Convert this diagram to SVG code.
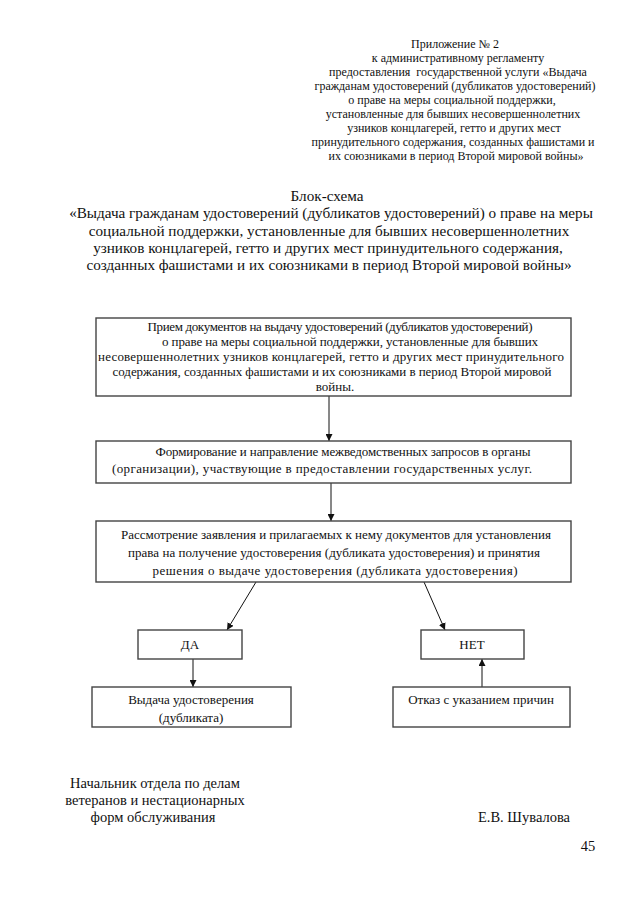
<svg xmlns="http://www.w3.org/2000/svg" width="640" height="905" viewBox="0 0 640 905">
<style>
text{fill:#111;}
.h{font-size:12px;text-anchor:middle;}
.t{font-size:15.2px;text-anchor:middle;}
.b{font-size:13px;text-anchor:middle;}
.f{font-size:14.5px;text-anchor:middle;}
.box{fill:#fff;stroke:#444;stroke-width:1.4;}
.c{stroke:#111;stroke-width:1;fill:none;}
</style>
<defs>
<marker id="ah" viewBox="0 0 10 10" refX="10" refY="5" markerWidth="7" markerHeight="7" orient="auto" markerUnits="userSpaceOnUse">
<path d="M0,0 L10,5 L0,10 z" fill="#111"/>
</marker>
</defs>
<rect width="640" height="905" fill="#fff"/>
<g id="header">
<text font-family="Liberation Serif" class="h" x="455" y="48">Приложение № 2</text>
<text font-family="Liberation Serif" class="h" x="458" y="62">к административному регламенту</text>
<text font-family="Liberation Serif" class="h" x="458" y="76" xml:space="preserve">предоставления  государственной услуги «Выдача</text>
<text font-family="Liberation Serif" class="h" x="455" y="90">гражданам удостоверений (дубликатов удостоверений)</text>
<text font-family="Liberation Serif" class="h" x="452" y="104">о праве на меры социальной поддержки,</text>
<text font-family="Liberation Serif" class="h" x="453" y="118">установленные для бывших несовершеннолетних</text>
<text font-family="Liberation Serif" class="h" x="454" y="132">узников концлагерей, гетто и других мест</text>
<text font-family="Liberation Serif" class="h" x="453" y="146">принудительного содержания, созданных фашистами и</text>
<text font-family="Liberation Serif" class="h" x="456" y="160">их союзниками в период Второй мировой войны»</text>
</g>
<g id="title">
<text font-family="Liberation Serif" class="t" x="327" y="201">Блок-схема</text>
<text font-family="Liberation Serif" class="t" x="331" y="218">«Выдача гражданам удостоверений (дубликатов удостоверений) о праве на меры</text>
<text font-family="Liberation Serif" class="t" x="329" y="236">социальной поддержки, установленные для бывших несовершеннолетних</text>
<text font-family="Liberation Serif" class="t" x="328" y="253">узников концлагерей, гетто и других мест принудительного содержания,</text>
<text font-family="Liberation Serif" class="t" x="329" y="270">созданных фашистами и их союзниками в период Второй мировой войны»</text>
</g>
<g id="connectors">
<line class="c" x1="329" y1="396" x2="329" y2="441" marker-end="url(#ah)"/>
<line class="c" x1="331" y1="483" x2="331" y2="521" marker-end="url(#ah)"/>
<line class="c" x1="256" y1="582" x2="227" y2="630" marker-end="url(#ah)"/>
<line class="c" x1="424" y1="582" x2="445" y2="630" marker-end="url(#ah)"/>
<line class="c" x1="193" y1="659" x2="193" y2="687" marker-end="url(#ah)"/>
<line class="c" x1="482" y1="687" x2="482" y2="659" marker-end="url(#ah)"/>
</g>
<g id="node1">
<rect class="box" x="96" y="318" width="475" height="78"/>
<text font-family="Liberation Serif" class="b" x="340" y="331" textLength="385" lengthAdjust="spacing">Прием документов на выдачу удостоверений (дубликатов удостоверений)</text>
<text font-family="Liberation Serif" class="b" x="350" y="346" textLength="376" lengthAdjust="spacing">о праве на меры социальной поддержки, установленные для бывших</text>
<text font-family="Liberation Serif" class="b" x="331" y="361" textLength="466" lengthAdjust="spacing">несовершеннолетних узников концлагерей, гетто и других мест принудительного</text>
<text font-family="Liberation Serif" class="b" x="332" y="376" textLength="439" lengthAdjust="spacing">содержания, созданных фашистами и их союзниками в период Второй мировой</text>
<text font-family="Liberation Serif" class="b" x="335" y="391">войны.</text>
</g>
<g id="node2">
<rect class="box" x="96" y="441" width="475" height="42"/>
<text font-family="Liberation Serif" class="b" x="343" y="456" textLength="375" lengthAdjust="spacing">Формирование и направление межведомственных запросов в органы</text>
<text font-family="Liberation Serif" class="b" x="322" y="473" textLength="420" lengthAdjust="spacing">(организации), участвующие в предоставлении государственных услуг.</text>
</g>
<g id="node3">
<rect class="box" x="96" y="521" width="475" height="61"/>
<text font-family="Liberation Serif" class="b" x="336" y="539" textLength="430" lengthAdjust="spacing">Рассмотрение заявления и прилагаемых к нему документов для установления</text>
<text font-family="Liberation Serif" class="b" x="334" y="557" textLength="412" lengthAdjust="spacing">права на получение удостоверения (дубликата удостоверения) и принятия</text>
<text font-family="Liberation Serif" class="b" x="335" y="575" textLength="365" lengthAdjust="spacing">решения о выдаче удостоверения (дубликата удостоверения)</text>
</g>
<g id="node-yes">
<rect class="box" x="138" y="630" width="104" height="29"/>
<text font-family="Liberation Serif" class="b" x="190" y="649">ДА</text>
</g>
<g id="node-no">
<rect class="box" x="421" y="630" width="103" height="29"/>
<text font-family="Liberation Serif" class="b" x="472" y="649">НЕТ</text>
</g>
<g id="node-issue">
<rect class="box" x="92" y="687" width="199" height="40"/>
<text font-family="Liberation Serif" class="b" x="191" y="704">Выдача удостоверения</text>
<text font-family="Liberation Serif" class="b" x="191" y="722">(дубликата)</text>
</g>
<g id="node-refuse">
<rect class="box" x="393" y="687" width="177" height="40"/>
<text font-family="Liberation Serif" class="b" x="481" y="704">Отказ с указанием причин</text>
</g>
<g id="footer">
<text font-family="Liberation Serif" class="f" x="155" y="788">Начальник отдела по делам</text>
<text font-family="Liberation Serif" class="f" x="155" y="805">ветеранов и нестационарных</text>
<text font-family="Liberation Serif" class="f" x="153" y="822">форм обслуживания</text>
<text font-family="Liberation Serif" class="f" x="524" y="822">Е.В. Шувалова</text>
<text font-family="Liberation Serif" class="f" x="588" y="851">45</text>
</g>
</svg>
